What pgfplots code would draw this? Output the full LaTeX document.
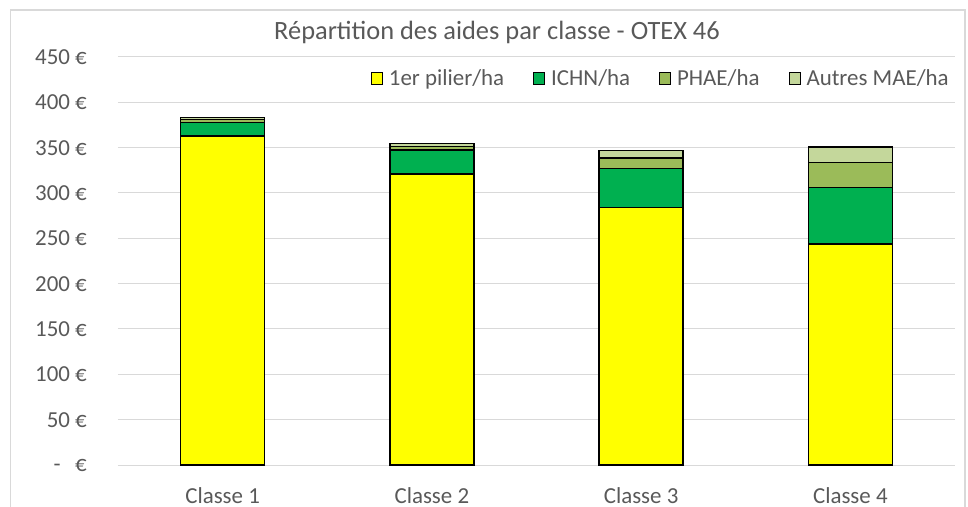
\documentclass[border=0pt]{standalone}
\usepackage{pgfplots}
\pgfplotsset{compat=1.18}
\usepackage{fontspec}
\setmainfont{Carlito}
\definecolor{txt}{HTML}{595959}
\definecolor{gridc}{HTML}{D9D9D9}
\definecolor{c1}{HTML}{FFFF00}
\definecolor{c2}{HTML}{00B050}
\definecolor{c3}{HTML}{9BBB59}
\definecolor{c4}{HTML}{C4D79B}
\begin{document}
\begin{tikzpicture}
\begin{axis}[
  scale only axis, width=837bp, height=408bp,
  ybar stacked, bar width=84bp,
  xmin=-0.5, xmax=3.5, ymin=0, ymax=450,
  xtick={0,1,2,3}, xticklabels={Classe 1,Classe 2,Classe 3,Classe 4},
  ytick={0,50,...,450},
  yticklabels={{\makebox[1.52em][l]{\hspace{0.8em}-} €},{50 €},{100 €},{150 €},{200 €},{250 €},{300 €},{350 €},{400 €},{450 €}},
  axis line style={draw=none},
  axis x line*=bottom,
  x axis line style={draw=gridc, line width=1bp},
  major tick length=0pt,
  ymajorgrids, grid style={gridc, line width=1bp},
  tick label style={txt, font=\fontsize{23}{26}\selectfont},
  yticklabel style={anchor=east, inner sep=0pt, xshift=-31bp},
  xticklabel style={anchor=base, inner sep=0pt, yshift=-38bp},
  legend columns=4,
  legend style={draw=none, fill=none, at={(rel axis cs:0.995,0.9485)}, anchor=east, inner sep=0pt,
    font=\fontsize{23}{26}\selectfont, text=txt,
    /tikz/every even column/.append style={column sep=27bp},
    /tikz/every odd column/.append style={column sep=4bp}},
  legend image code/.code={\draw[#1, draw=black, line width=1bp] (0bp,-6bp) rectangle (11bp,6bp);},
  every axis plot/.append style={draw=black, line width=1.5bp},
  clip=false,
]
\addplot[fill=c1] coordinates {(0,363) (1,321) (2,284) (3,244)};
\addplot[fill=c2] coordinates {(0,15) (1,26.5) (2,43) (3,62)};
\addplot[fill=c3] coordinates {(0,3) (1,4) (2,11.4) (3,27.5)};
\addplot[fill=c4] coordinates {(0,2.5) (1,3.3) (2,8.5) (3,17.2)};
\legend{1er pilier/ha, ICHN/ha, PHAE/ha, Autres MAE/ha}
\end{axis}
\begin{scope}[shift={(-118bp,-42bp)}]
\useasboundingbox (0bp,0bp) rectangle (968bp,507bp);
\draw[gridc, line width=1.2bp] (10.5bp,0bp) -- (10.5bp,497bp) -- (965bp,497bp) -- (965bp,0bp);
\node[txt, font=\fontsize{26.5}{30}\selectfont] at (497bp,475bp) {Répartition des aides par classe - OTEX 46};
\end{scope}
\end{tikzpicture}
\end{document}
